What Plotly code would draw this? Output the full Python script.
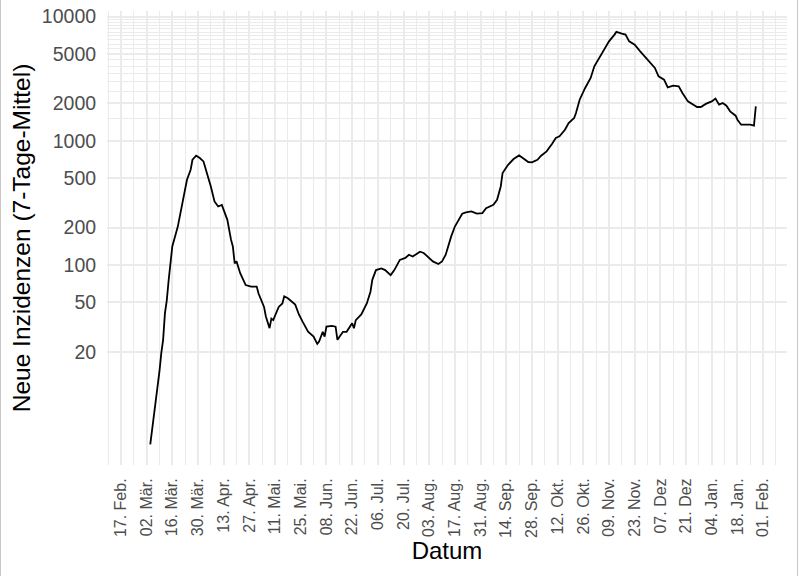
import plotly.graph_objects as go

# 7-Tage-Mittel der Neuinfektionen
dates = [
    "2020-03-04", "2020-03-05", "2020-03-06", "2020-03-07", "2020-03-08", "2020-03-09",
    "2020-03-10", "2020-03-11", "2020-03-12", "2020-03-13", "2020-03-14", "2020-03-15",
    "2020-03-16", "2020-03-19", "2020-03-21", "2020-03-24", "2020-03-26", "2020-03-27",
    "2020-03-29", "2020-03-31", "2020-04-02", "2020-04-04", "2020-04-06", "2020-04-08",
    "2020-04-10", "2020-04-12", "2020-04-15", "2020-04-17", "2020-04-18", "2020-04-19",
    "2020-04-20", "2020-04-22", "2020-04-25", "2020-04-28", "2020-05-01", "2020-05-02",
    "2020-05-05", "2020-05-06", "2020-05-08", "2020-05-09", "2020-05-10", "2020-05-13",
    "2020-05-15", "2020-05-16", "2020-05-18", "2020-05-22", "2020-05-24", "2020-05-26",
    "2020-05-29", "2020-06-01", "2020-06-03", "2020-06-04", "2020-06-06", "2020-06-07",
    "2020-06-08", "2020-06-11", "2020-06-13", "2020-06-14", "2020-06-15", "2020-06-17",
    "2020-06-19", "2020-06-22", "2020-06-23", "2020-06-24", "2020-06-27", "2020-06-30",
    "2020-07-02", "2020-07-03", "2020-07-05", "2020-07-08", "2020-07-10", "2020-07-13",
    "2020-07-15", "2020-07-18", "2020-07-21", "2020-07-23", "2020-07-25", "2020-07-29",
    "2020-07-31", "2020-08-02", "2020-08-05", "2020-08-08", "2020-08-10", "2020-08-12",
    "2020-08-13", "2020-08-15", "2020-08-17", "2020-08-21", "2020-08-23", "2020-08-26",
    "2020-08-29", "2020-09-01", "2020-09-03", "2020-09-07", "2020-09-09", "2020-09-11",
    "2020-09-12", "2020-09-15", "2020-09-18", "2020-09-21", "2020-09-23", "2020-09-26",
    "2020-09-28", "2020-10-01", "2020-10-03", "2020-10-06", "2020-10-09", "2020-10-11",
    "2020-10-13", "2020-10-16", "2020-10-18", "2020-10-21", "2020-10-22", "2020-10-24",
    "2020-10-27", "2020-10-30", "2020-11-01", "2020-11-04", "2020-11-07", "2020-11-09",
    "2020-11-12", "2020-11-13", "2020-11-16", "2020-11-18", "2020-11-20", "2020-11-23",
    "2020-11-26", "2020-11-29", "2020-12-01", "2020-12-04", "2020-12-06", "2020-12-09",
    "2020-12-11", "2020-12-14", "2020-12-17", "2020-12-19", "2020-12-22", "2020-12-24",
    "2020-12-27", "2020-12-29", "2021-01-01", "2021-01-04", "2021-01-06", "2021-01-08",
    "2021-01-10", "2021-01-12", "2021-01-14", "2021-01-17", "2021-01-18", "2021-01-20",
    "2021-01-22", "2021-01-25", "2021-01-27", "2021-01-28",
]
cases = [
    3.6, 4.7, 5.8, 8.2, 10.5, 13.9,
    19.5, 25, 41, 52, 75, 103,
    141, 204, 296, 486, 585, 704,
    759, 727, 682, 550, 429, 325,
    296, 305, 231, 160, 141, 103,
    107, 86, 69, 67, 67, 59,
    46, 38.5, 31, 37, 36, 46,
    49, 56, 54, 48, 40, 35,
    29, 26.5, 23.2, 24.2, 29, 26.5,
    31.9, 32.4, 31.9, 25, 26.5, 29,
    29, 34, 31, 36, 40, 49,
    61, 76, 91, 94, 91, 83,
    91, 110, 114, 121, 117, 128,
    125, 117, 107, 102, 107, 121,
    137, 170, 204, 259, 265, 270,
    259, 262, 287, 305, 335, 429,
    550, 641, 713, 763, 727, 675,
    670, 704, 759, 822, 948, 1054,
    1086, 1228, 1391, 1527, 1675, 2143,
    2663, 3206, 3980, 4786, 5593, 6324,
    7161, 7531, 7295, 7161, 6324, 5946,
    5250, 4649, 4285, 3860, 3301, 3107,
    2693, 2780, 2750, 2428, 2077, 1990,
    1872, 1872, 1990, 2077, 2185, 1954,
    2017, 1918, 1726, 1593, 1479, 1348,
    1348, 1348, 1324, 1893,
]

x_ticks = [
    "2020-02-17", "2020-03-02", "2020-03-16", "2020-03-30", "2020-04-13", "2020-04-27",
    "2020-05-11", "2020-05-25", "2020-06-08", "2020-06-22", "2020-07-06", "2020-07-20",
    "2020-08-03", "2020-08-17", "2020-08-31", "2020-09-14", "2020-09-28", "2020-10-12",
    "2020-10-26", "2020-11-09", "2020-11-23", "2020-12-07", "2020-12-21", "2021-01-04",
    "2021-01-18", "2021-02-01",
]
x_labels = [
    "17. Feb.", "02. Mär.", "16. Mär.", "30. Mär.", "13. Apr.", "27. Apr.",
    "11. Mai.", "25. Mai.", "08. Jun.", "22. Jun.", "06. Jul.", "20. Jul.",
    "03. Aug.", "17. Aug.", "31. Aug.", "14. Sep.", "28. Sep.", "12. Okt.",
    "26. Okt.", "09. Nov.", "23. Nov.", "07. Dez", "21. Dez", "04. Jan.",
    "18. Jan.", "01. Feb.",
]
y_ticks = [20, 50, 100, 200, 500, 1000, 2000, 5000, 10000]
y_minor = [500 * i for i in range(1, 21)]

grid = "#EBEBEB"
tick_color = "#4D4D4D"

fig = go.Figure()
fig.add_trace(go.Scatter(
    x=dates, y=cases, mode="lines",
    line=dict(color="black", width=1.8),
    showlegend=False,
))

fig.update_xaxes(
    type="date",
    range=["2020-02-09 10:00", "2021-02-14"],
    tickvals=x_ticks,
    ticktext=x_labels,
    tickangle=-90,
    tickfont=dict(size=16, color=tick_color),
    ticks="outside", ticklen=6, tickcolor="rgba(0,0,0,0)",
    showgrid=True, gridcolor=grid, gridwidth=2,
    minor=dict(dtick=7 * 86400000, tick0="2020-02-10", showgrid=True,
               gridcolor=grid, gridwidth=1),
    zeroline=False, showline=False,
    automargin=False,
    title=dict(text="Datum", font=dict(size=24, color="black"), standoff=4),
)
fig.update_yaxes(
    type="log",
    range=[0.39, 4.045],
    tickvals=y_ticks,
    ticktext=[str(v) for v in y_ticks],
    tickfont=dict(size=19.5, color=tick_color),
    ticks="outside", ticklen=6, tickcolor="rgba(0,0,0,0)",
    showgrid=True, gridcolor=grid, gridwidth=2,
    minor=dict(tickvals=y_minor, showgrid=True, gridcolor=grid, gridwidth=1),
    zeroline=False, showline=False,
    automargin=False,
    title=dict(text="Neue Inzidenzen (7-Tage-Mittel)", font=dict(size=24.5, color="black"), standoff=4),
)

# dünner grauer Rahmen links und rechts wie im Original
for px in [0.5, 797.5]:
    fig.add_shape(type="line", xref="paper", yref="paper",
                  x0=(px - 107) / 680, x1=(px - 107) / 680, y0=-0.25, y1=1.03,
                  line=dict(color="#C8C8C8", width=1))

fig.update_layout(
    width=800, height=576,
    margin=dict(l=107, r=13, t=11, b=111),
    plot_bgcolor="white",
    paper_bgcolor="white",
    font=dict(family="Liberation Sans, Arial, sans-serif"),
)

# Seitenrand weg, damit die Grafik genau ins Fenster passt
fig.write_html("out.html", config={"displayModeBar": False},
               post_script="document.body.style.margin='0';")
